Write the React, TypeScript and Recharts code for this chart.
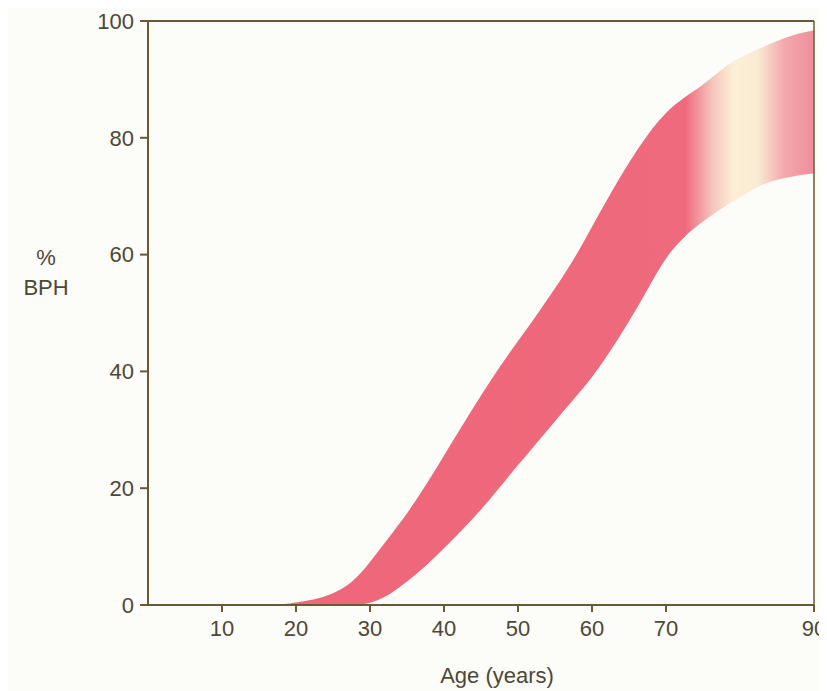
import React from 'react';
import { ComposedChart, Area, XAxis, YAxis, ReferenceLine } from 'recharts';

// Age (years) sampled along the band
const ages = [17.5, 20, 22.5, 25, 27.5, 30, 32.5, 35, 37.5, 40, 42.5, 45, 47.5, 50, 52.5, 55, 57.5, 60, 62.5, 65, 67.5, 70, 72.5, 75, 77.5, 80, 82.5, 85, 87.5, 90];
// Upper edge of the % BPH band
const upperPct = [0, 0.4, 0.9, 1.9, 3.6, 7.3, 11.5, 15.6, 20.4, 25.6, 30.8, 35.9, 40.8, 45.2, 49.6, 54.2, 59.0, 64.8, 70.5, 75.8, 80.6, 84.5, 87.0, 89.0, 91.8, 93.8, 95.2, 96.6, 97.8, 98.4];
// Lower edge of the % BPH band
const lowerPct = [0, 0, 0, 0, 0, 0.2, 1.6, 4.0, 6.6, 9.7, 12.9, 16.3, 20.1, 24.0, 27.7, 31.5, 35.2, 38.9, 43.5, 48.5, 54.0, 59.7, 63.2, 65.7, 67.9, 69.8, 71.8, 72.9, 73.5, 73.9];

const xTicks = [10, 20, 30, 40, 50, 60, 70, 90];
const yTicks = [0, 20, 40, 60, 80, 100];
const xMax = 90;
const yMax = 100;

const data = ages.map((age, i) => ({ age, band: [lowerPct[i], upperPct[i]] }));

const AXIS = '#6b5837';
const TEXT = '#4d4838';
const FONT = '"Liberation Sans", Arial, Helvetica, sans-serif';

function YLabel(props: any) {
  const vb = props.viewBox || {};
  const cx = vb.x - 42;
  const cy = vb.y + vb.height * 0.405;
  return (
    <g>
      <text x={cx} y={cy} textAnchor="middle" dominantBaseline="central" fill={TEXT} fontSize={22} fontFamily={FONT}>%</text>
      <text x={cx} y={cy + 30} textAnchor="middle" dominantBaseline="central" fill={TEXT} fontSize={22} fontFamily={FONT}>BPH</text>
    </g>
  );
}

function XLabel(props: any) {
  const vb = props.viewBox || {};
  return (
    <text x={vb.x + vb.width / 2 + 16} y={vb.y + 70} textAnchor="middle" dominantBaseline="central" fill={TEXT} fontSize={22} fontFamily={FONT}>
      Age (years)
    </text>
  );
}

export default function App() {
  return (
    <div style={{ width: 819, height: 683, background: '#fcfcf9' }}>
      <ComposedChart width={819} height={683} data={data} margin={{ top: 13, right: 13, left: 80, bottom: 6 }}>
        <defs>
          <linearGradient id="bandFill" x1="0" y1="0" x2="1" y2="0">
            <stop offset="0" stopColor="#ef6679" />
            <stop offset="0.76" stopColor="#ee6a7c" />
            <stop offset="0.81" stopColor="#f5c4bd" />
            <stop offset="0.85" stopColor="#fbf0d6" />
            <stop offset="0.895" stopColor="#faebd3" />
            <stop offset="0.945" stopColor="#f3a8ae" />
            <stop offset="1" stopColor="#ef8e9b" />
          </linearGradient>
        </defs>
        <XAxis
          dataKey="age"
          type="number"
          domain={[0, xMax]}
          ticks={xTicks}
          interval={0}
          height={80}
          stroke={AXIS}
          strokeWidth={2}
          tickSize={7}
          tickMargin={8}
          tick={{ fill: TEXT, fontSize: 22, fontFamily: FONT }}
          label={<XLabel />}
        />
        <YAxis
          type="number"
          domain={[0, yMax]}
          ticks={yTicks}
          interval={0}
          width={60}
          stroke={AXIS}
          strokeWidth={2}
          tickSize={8}
          tickMargin={6}
          tick={{ fill: TEXT, fontSize: 22, fontFamily: FONT }}
          label={<YLabel />}
        />
        <Area
          type="basis"
          dataKey="band"
          stroke="none"
          fill="url(#bandFill)"
          fillOpacity={1}
          isAnimationActive={false}
        />
        <ReferenceLine y={yMax} stroke={AXIS} strokeWidth={2} />
        <ReferenceLine x={xMax} stroke={AXIS} strokeWidth={1.5} />
      </ComposedChart>
    </div>
  );
}
